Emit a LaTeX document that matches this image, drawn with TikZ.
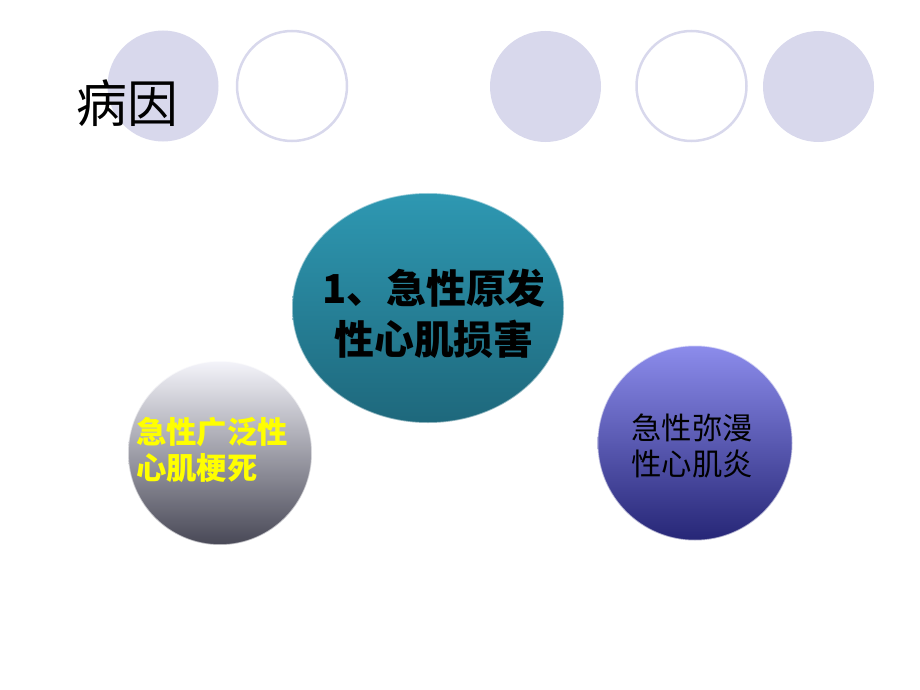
\documentclass[tikz,border=0pt]{standalone}
\usepackage{fontspec}
\newfontfamily\cjk{Noto Sans CJK SC}
\usetikzlibrary{shapes.geometric}
\definecolor{lilac}{RGB}{216,216,236}
\definecolor{tealtop}{RGB}{46,152,178}
\definecolor{tealbot}{RGB}{30,104,124}
\definecolor{greytop}{RGB}{244,244,250}
\definecolor{greybot}{RGB}{72,72,86}
\definecolor{bluetop}{RGB}{140,140,236}
\definecolor{bluebot}{RGB}{38,38,118}
\definecolor{causeyellow}{RGB}{255,255,0}
\tikzset{
    dotfull/.style={circle,fill=lilac,minimum size=111bp,inner sep=0pt},
    dotring/.style={circle,draw=lilac,line width=2.5bp,minimum size=110bp,inner sep=0pt},
    ball/.style={circle,inner sep=0pt,draw=white,draw opacity=.6,line width=1.5bp},
    causetext/.style={font=\cjk\fontsize{30.5}{37}\selectfont,inner sep=0pt}
}
\begin{document}
\begin{tikzpicture}[x=1bp,y=-1bp]
    \useasboundingbox (0,0) rectangle (920,690);
    % row of circles at the top
    \node[dotfull] (d1) at (163,86) {};
    \node[dotring] (d2) at (292,86) {};
    \node[dotfull] (d3) at (545.5,86.5) {};
    \node[dotring] (d4) at (691.5,86) {};
    \node[dotfull] (d5) at (818.5,86.5) {};
    \node[anchor=west,inner sep=0pt,font=\cjk\fontsize{51}{55}\selectfont] (title) at (76,103) {病因};
    % main cause
    \node[ellipse,minimum width=272bp,minimum height=230bp,inner sep=0pt,
          top color=tealtop,bottom color=tealbot,draw=white,draw opacity=.5,line width=1.5bp]
          (main) at (428,308) {};
    \node[font=\cjk\bfseries\fontsize{40}{51}\selectfont,align=center,inner sep=0pt]
          (maintext) at (434,314) {1、急性原发\\性心肌损害};
    % the two others
    \node[ball,minimum size=184bp,top color=greytop,bottom color=greybot] (left) at (220,453) {};
    \node[causetext,anchor=west,align=left,text=causeyellow,font=\cjk\bfseries\fontsize{30.5}{37}\selectfont]
          (lefttext) at (136,450) {急性广泛性\\心肌梗死};
    \node[ball,minimum size=195bp,top color=bluetop,bottom color=bluebot] (right) at (695,443) {};
    \node[causetext,align=center] (righttext) at (692,446) {急性弥漫\\性心肌炎};
\end{tikzpicture}
\end{document}
